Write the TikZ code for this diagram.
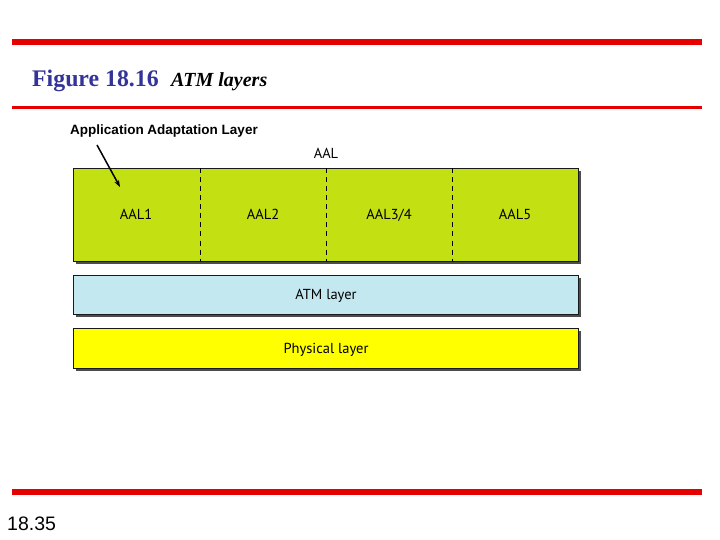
\documentclass[tikz,border=0pt]{standalone}
\usepackage{fontspec}
\setmainfont{Liberation Serif}
\setsansfont{Liberation Sans}
\newfontfamily\boxfont{PT Sans}
\usetikzlibrary{arrows.meta}
\definecolor{redline}{RGB}{230,0,0}
\definecolor{titleblue}{RGB}{51,51,153}
\definecolor{aalgreen}{RGB}{194,224,18}
\definecolor{atmblue}{RGB}{196,232,240}
\definecolor{phyyellow}{RGB}{255,255,0}
\tikzset{
  layerbox/.style={draw=black!90, line width=0.8pt, inner sep=0pt},
  shadowbox/.style={fill=black!70},
  boxlabel/.style={font=\boxfont\fontsize{14.5}{16}\selectfont, inner sep=0pt, anchor=base},
  divider/.style={line width=1pt, dash pattern=on 5pt off 4pt},
  bar/.style={redline, line width=6pt},
}
\begin{document}
\begin{tikzpicture}[x=1pt,y=-1pt]
\useasboundingbox (0,0) rectangle (720,540);
% red bars
\draw[bar] (12,42) -- (702,42);
\draw[redline, line width=3pt] (12,108) -- (702,108);
\draw[bar] (12,491.5) -- (702,491.5);
% title
\node[anchor=base west, inner sep=0pt, text=titleblue, font=\bfseries\fontsize{23.8}{26}\selectfont] (fig) at (32,87) {Figure 18.16};
\node[anchor=base west, inner sep=0pt, font=\bfseries\itshape\fontsize{20}{22}\selectfont] (ttl) at (171,87) {ATM layers};
% shadows
\fill[shadowbox] (76,171) rectangle (581,264);
\fill[shadowbox] (76,278) rectangle (581,317);
\fill[shadowbox] (76,331) rectangle (581,371);
% boxes
\node[layerbox, fill=aalgreen, minimum width=505pt, minimum height=93pt, anchor=north west] (aal) at (73,168) {};
\node[layerbox, fill=atmblue, minimum width=505pt, minimum height=39pt, anchor=north west] (atm) at (73,275) {};
\node[layerbox, fill=phyyellow, minimum width=505pt, minimum height=40pt, anchor=north west] (phy) at (73,328) {};
% dividers
\foreach \x in {200,326,452} \draw[divider] (\x,168.5) -- (\x,260.5);
% labels
\node[boxlabel] (aaltop) at (326,159) {AAL};
\node[boxlabel] (aal1) at (136,220) {AAL1};
\node[boxlabel] (aal2) at (263,220) {AAL2};
\node[boxlabel] (aal34) at (389,220) {AAL3/4};
\node[boxlabel] (aal5) at (515,220) {AAL5};
\node[boxlabel] (atml) at (326,299.5) {ATM layer};
\node[boxlabel] (phyl) at (326,353.5) {Physical layer};
% application adaptation layer label and arrow
\node[font=\sffamily\bfseries\fontsize{13.5}{15}\selectfont, inner sep=0pt] (aalname) at (164,131.5) {Application Adaptation Layer};
\coordinate (arrs) at (97,145);
\coordinate (arre) at (120,187);
\draw[line width=1.5pt, -{Stealth[length=7pt,width=5pt]}] (arrs) -- (arre);
% page number
\node[anchor=base west, inner sep=0pt, font=\sffamily\fontsize{19.5}{22}\selectfont] (pg) at (7,530) {18.35};
\end{tikzpicture}
\end{document}
